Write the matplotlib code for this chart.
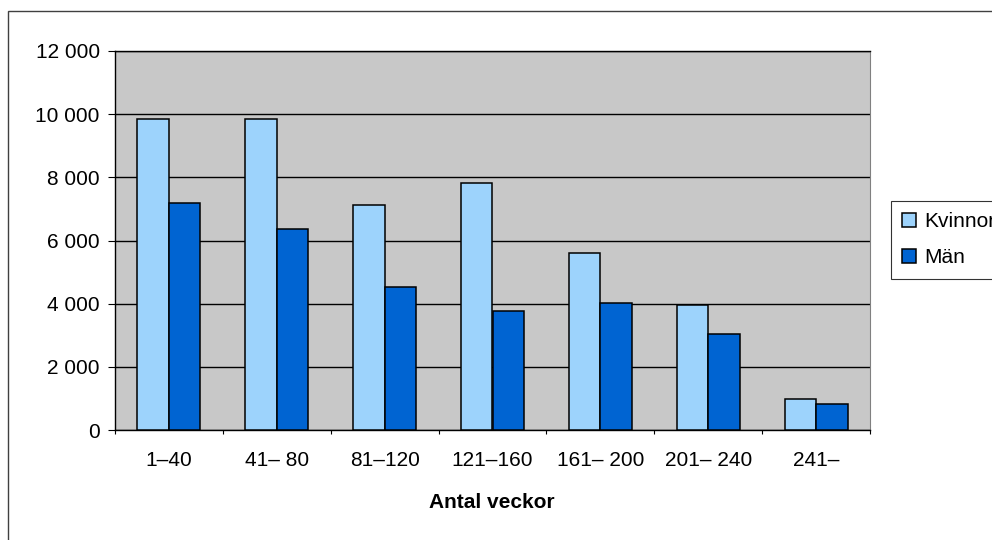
import matplotlib.pyplot as plt
import numpy as np
from matplotlib.patches import Rectangle

categories = ["1\u201340", "41\u2013 80", "81\u2013120", "121\u2013160",
              "161\u2013 200", "201\u2013 240", "241\u2013"]
kvinnor = [9850, 9850, 7130, 7820, 5620, 3970, 980]
man = [7200, 6370, 4520, 3780, 4030, 3050, 810]
series_names = ["Kvinnor", "M\u00e4n"]
y_ticks = [0, 2000, 4000, 6000, 8000, 10000, 12000]

plt.rcParams["font.family"] = ["Liberation Sans", "DejaVu Sans"]

fig = plt.figure(figsize=(9.92, 5.4), dpi=100)
ax = fig.add_axes([115 / 992, 1 - 430 / 540, 755 / 992, 379 / 540])

# outer chart frame (cropped on right and bottom)
fig.patches.append(Rectangle((8 / 992, -0.1), 1.2, 1.1 - 11 / 540,
                             transform=fig.transFigure, fill=False,
                             edgecolor="#404040", linewidth=1.0))

x = np.arange(len(categories))
w = 0.292
ax.set_facecolor("#C8C8C8")
ax.bar(x - w / 2, kvinnor, w, color="#9DD3FC", edgecolor="black",
       linewidth=1.1, label=series_names[0], zorder=3)
ax.bar(x + w / 2, man, w, color="#0064D2", edgecolor="black",
       linewidth=1.1, label=series_names[1], zorder=3)

ax.set_xlim(-0.5, len(categories) - 0.5)
ax.set_ylim(0, 12000)
ax.set_yticks(y_ticks)
ax.set_yticklabels([f"{v:,}".replace(",", " ") for v in y_ticks])
ax.yaxis.grid(True, color="black", linewidth=1.0, zorder=0)
ax.set_axisbelow(True)

ax.set_xticks(np.arange(len(categories) + 1) - 0.5)
ax.set_xticklabels([])
ax.set_xticks(x, minor=True)
ax.set_xticklabels(categories, minor=True)
ax.tick_params(axis="x", which="major", length=3, width=0.8, direction="out")
ax.tick_params(axis="x", which="minor", length=0, pad=15, labelsize=15)
ax.tick_params(axis="y", length=5, width=0.8, pad=6, labelsize=15)

for s in ["left", "bottom", "top"]:
    ax.spines[s].set_color("black")
    ax.spines[s].set_linewidth(1.0)
ax.spines["right"].set_color("#808080")

fig.text(492 / 992, 1 - 503 / 540, "Antal veckor", ha="center", va="center",
         fontsize=15, fontweight="bold")

leg = fig.legend(loc="upper left", bbox_to_anchor=(891 / 992, 1 - 201 / 540),
                 fontsize=15, frameon=True, fancybox=False, edgecolor="black",
                 handlelength=0.65, handleheight=0.65, handletextpad=0.4,
                 borderpad=0.55, labelspacing=0.8, borderaxespad=0)
leg.get_frame().set_linewidth(0.8)

fig.savefig("out.png", dpi=100)
